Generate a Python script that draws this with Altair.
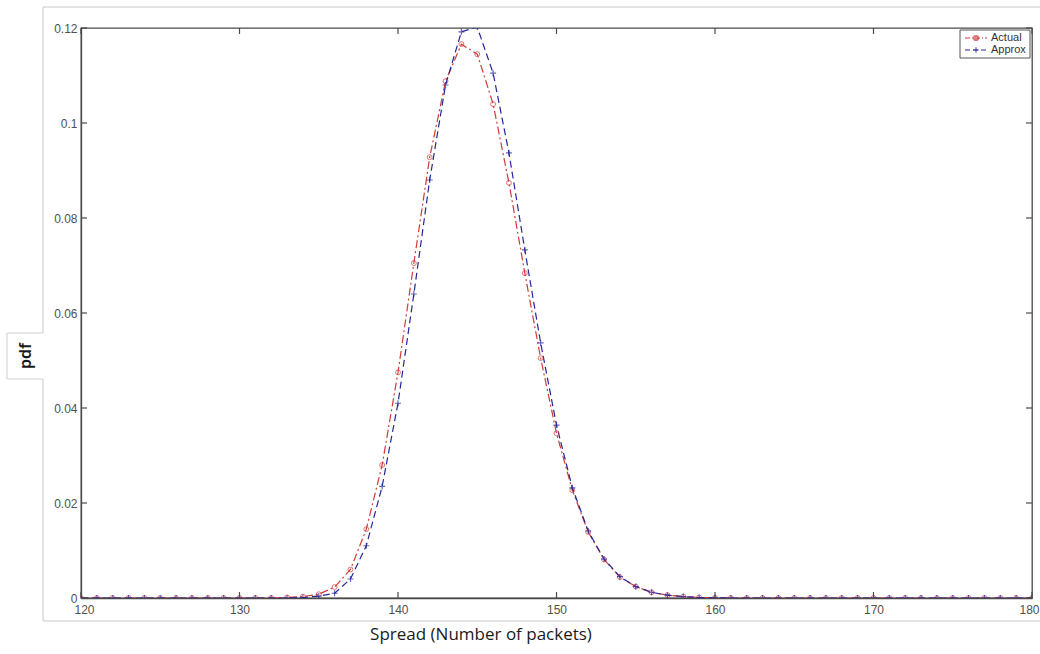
import altair as alt
import pandas as pd

spread = [120, 121, 122, 123, 124, 125, 126, 127, 128, 129,
          130, 131, 132, 133, 134, 135, 136, 137, 138, 139,
          140, 141, 142, 143, 144, 145, 146, 147, 148, 149,
          150, 151, 152, 153, 154, 155, 156, 157, 158, 159,
          160, 161, 162, 163, 164, 165, 166, 167, 168, 169,
          170, 171, 172, 173, 174, 175, 176, 177, 178, 179, 180]

actual = [0, 0, 0, 0, 0, 0, 0, 0, 0, 0,
          0, 0, 0, 0.0001, 0.0003, 0.0008, 0.0023, 0.006, 0.0145, 0.028,
          0.0475, 0.0705, 0.0928, 0.1088, 0.1166, 0.1145, 0.104, 0.0874, 0.0684, 0.0505,
          0.0347, 0.0227, 0.0139, 0.0081, 0.0044, 0.0024, 0.0012, 0.0006, 0.0003, 0.0001,
          0.00005, 0, 0, 0, 0, 0, 0, 0, 0, 0,
          0, 0, 0, 0, 0, 0, 0, 0, 0, 0, 0]

approx = [0, 0, 0, 0, 0, 0, 0, 0, 0, 0,
          0, 0, 0, 0, 0.0001, 0.0004, 0.001, 0.004, 0.011, 0.0235,
          0.041, 0.064, 0.088, 0.108, 0.1192, 0.1202, 0.1105, 0.0937, 0.0733, 0.0537,
          0.0364, 0.0232, 0.0141, 0.0082, 0.0045, 0.0024, 0.0012, 0.0006, 0.0003, 0.0001,
          0.00005, 0, 0, 0, 0, 0, 0, 0, 0, 0,
          0, 0, 0, 0, 0, 0, 0, 0, 0, 0, 0]

x_ticks = [120, 130, 140, 150, 160, 170, 180]
y_ticks = [0, 0.02, 0.04, 0.06, 0.08, 0.1, 0.12]

RED = "#d03a3a"
BLUE = "#26269a"
AXC = "#4a4a4a"
W, H = 951, 570
TICKFONT = "Liberation Sans"

df = pd.DataFrame({"spread": spread, "actual": actual, "approx": approx})
xt = pd.DataFrame({"v": x_ticks})
yt = pd.DataFrame({"v": y_ticks})
one = alt.Data(values=[{"a": 1}])

xs = alt.Scale(domain=[120, 180], nice=False, zero=False)
ys = alt.Scale(domain=[0, 0.12], nice=False)

base = alt.Chart(df)

X = alt.X("spread:Q", scale=xs,
          axis=alt.Axis(values=x_ticks, title=None, ticks=False, grid=False,
                        labelFont=TICKFONT, labelFontSize=12, labelColor="#505050",
                        labelFlush=True, labelFlushOffset=7, labelOverlap=False, labelBound=False,
                        labelPadding=6, domainColor=AXC, domainWidth=1.3))
Y_a = alt.Y("actual:Q", scale=ys,
            axis=alt.Axis(values=y_ticks, title=None, ticks=False, grid=False, format=".2~f",
                          labelFont=TICKFONT, labelFontSize=12, labelColor="#505050",
                          labelFlush=False, labelOverlap=False, labelBound=False,
                          labelPadding=4, domainColor=AXC, domainWidth=1.3))
Y_b = alt.Y("approx:Q", scale=ys)

line_a = base.mark_line(color=RED, strokeWidth=1.2, strokeDash=[8, 3, 2, 3], clip=True).encode(x=X, y=Y_a)
pts_a = base.mark_point(shape="circle", filled=False, color=RED, size=24, strokeWidth=1, clip=True).encode(x="spread:Q", y=alt.Y("actual:Q", scale=ys))
line_b = base.mark_line(color=BLUE, strokeWidth=1.2, strokeDash=[7, 4], clip=True).encode(x="spread:Q", y=Y_b)
pts_b = base.mark_point(shape="M-1,0L1,0M0,-1L0,1", filled=False, color=BLUE, size=36, strokeWidth=1.2, clip=True).encode(x="spread:Q", y=Y_b)

# inward ticks
xt_bot = alt.Chart(xt).mark_rule(color=AXC, strokeWidth=1.2).encode(x=alt.X("v:Q", scale=xs), y=alt.value(H), y2=alt.value(H - 6))
xt_top = alt.Chart(xt).mark_rule(color=AXC, strokeWidth=1.2).encode(x=alt.X("v:Q", scale=xs), y=alt.value(0), y2=alt.value(6))
yt_l = alt.Chart(yt).mark_rule(color=AXC, strokeWidth=1.2).encode(y=alt.Y("v:Q", scale=ys), x=alt.value(0), x2=alt.value(6))
yt_r = alt.Chart(yt).mark_rule(color=AXC, strokeWidth=1.2).encode(y=alt.Y("v:Q", scale=ys), x=alt.value(W), x2=alt.value(W - 6))

# outer light frame
frame = alt.Chart(one).mark_rect(fill=None, stroke="#c8c8c8", strokeWidth=1).encode(
    x=alt.value(-38), x2=alt.value(975), y=alt.value(-21), y2=alt.value(593))

# pdf label box
pdf_box = alt.Chart(one).mark_rect(fill="white", stroke=None).encode(
    x=alt.value(-74), x2=alt.value(-37), y=alt.value(305), y2=alt.value(351))
pdf_edge_t = alt.Chart(one).mark_rule(color="#d0d0d0").encode(x=alt.value(-74), x2=alt.value(-38), y=alt.value(305))
pdf_edge_b = alt.Chart(one).mark_rule(color="#d0d0d0").encode(x=alt.value(-74), x2=alt.value(-38), y=alt.value(351))
pdf_edge_l = alt.Chart(one).mark_rule(color="#d0d0d0").encode(x=alt.value(-74), y=alt.value(305), y2=alt.value(351))
pdf_text = alt.Chart(one).mark_text(text="pdf", angle=270, font="Noto Sans", fontSize=16,
                                   fontWeight=600, color="#1a1a1a", baseline="middle", align="center").encode(
    x=alt.value(-55), y=alt.value(328))

x_title = alt.Chart(one).mark_text(text="Spread (Number of packets)", font="Open Sans", fontSize=17,
                                   color="#1a1a1a", baseline="middle", align="center").encode(
    x=alt.value(400), y=alt.value(607))

# legend
LX0, LX1, LY0, LY1 = 879, 949, 2, 30
leg_box = alt.Chart(one).mark_rect(fill="white", stroke="#555", strokeWidth=1).encode(
    x=alt.value(LX0), x2=alt.value(LX1), y=alt.value(LY0), y2=alt.value(LY1))
r1, r2 = 10, 22
leg_la = alt.Chart(one).mark_rule(color=RED, strokeWidth=1.2, strokeDash=[5, 2, 1, 2]).encode(
    x=alt.value(LX0 + 5), x2=alt.value(LX0 + 27), y=alt.value(r1))
leg_pa = alt.Chart(one).mark_point(shape="circle", filled=False, color=RED, size=18).encode(
    x=alt.value(LX0 + 16), y=alt.value(r1))
leg_ta = alt.Chart(one).mark_text(text="Actual", font=TICKFONT, fontSize=11, color="#333",
                                  align="left", baseline="middle").encode(x=alt.value(LX0 + 31), y=alt.value(r1))
leg_lb = alt.Chart(one).mark_rule(color=BLUE, strokeWidth=1.2, strokeDash=[5, 3]).encode(
    x=alt.value(LX0 + 5), x2=alt.value(LX0 + 27), y=alt.value(r2))
leg_pb = alt.Chart(one).mark_point(shape="M-1,0L1,0M0,-1L0,1", filled=False, color=BLUE, size=30, strokeWidth=1.2).encode(
    x=alt.value(LX0 + 16), y=alt.value(r2))
leg_tb = alt.Chart(one).mark_text(text="Approx", font=TICKFONT, fontSize=11, color="#333",
                                  align="left", baseline="middle").encode(x=alt.value(LX0 + 31), y=alt.value(r2))

chart = alt.layer(
    frame, pdf_box, pdf_edge_t, pdf_edge_b, pdf_edge_l, pdf_text, x_title,
    line_a, line_b, pts_a, pts_b,
    xt_bot, xt_top, yt_l, yt_r,
    leg_box, leg_la, leg_pa, leg_ta, leg_lb, leg_pb, leg_tb,
).properties(
    width=W, height=H,
    padding={"left": 81, "top": 28, "right": 8, "bottom": 56},
    autosize=alt.AutoSizeParams(type="none"),
    background="white",
).configure_view(stroke=AXC, strokeWidth=1.3)

chart.save("out.html", embed_options={"renderer": "svg", "actions": False})
